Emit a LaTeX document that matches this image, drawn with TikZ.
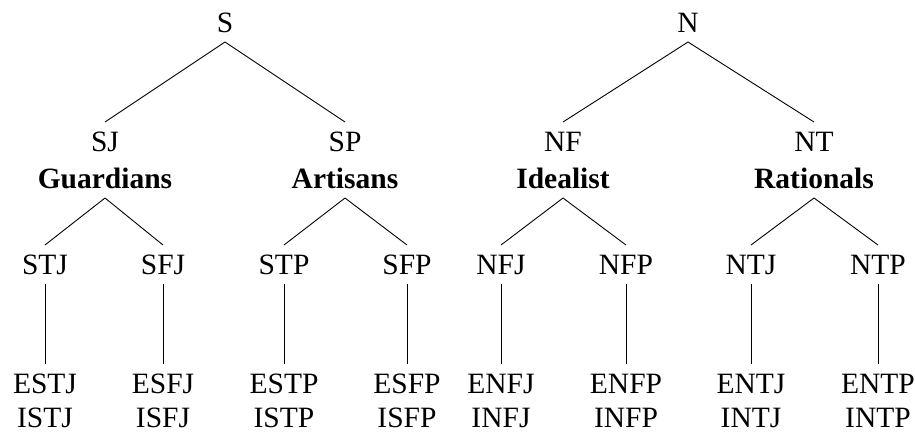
\documentclass[tikz,border=0pt]{standalone}
\usepackage{fontspec}
\setmainfont{Liberation Serif}
\begin{document}
\begin{tikzpicture}[x=1pt,y=-1pt,
  lab/.style={font=\fontsize{29.5}{35}\selectfont, text height=19pt, text depth=0pt,
    inner xsep=0pt, inner ysep=10pt, outer sep=0pt, anchor=base},
  low/.style={lab, inner ysep=0pt},
  grp/.style={lab, font=\fontsize{29.5}{35}\selectfont\bfseries},
  edge/.style={line width=0.9pt}]
\useasboundingbox (0,0) rectangle (915,434);
% roots
\node[lab] (S) at (225,32) {S};
\node[lab] (N) at (688,32) {N};
% level 2
\node[lab] (SJ) at (105,151) {SJ};
\node[grp] (G) at (105,188) {Guardians};
\node[lab] (SP) at (345,151) {SP};
\node[grp] (A) at (345,188) {Artisans};
\node[lab] (NF) at (563,151) {NF};
\node[grp] (I) at (563,188) {Idealist};
\node[lab] (NT) at (814,151) {NT};
\node[grp] (R) at (814,188) {Rationals};
% level 3
\node[lab] (STJ) at (45,274) {STJ};
\node[lab] (SFJ) at (163,274) {SFJ};
\node[lab] (STP) at (284,274) {STP};
\node[lab] (SFP) at (407,274) {SFP};
\node[lab] (NFJ) at (501,274) {NFJ};
\node[lab] (NFP) at (626,274) {NFP};
\node[lab] (NTJ) at (751,274) {NTJ};
\node[lab] (NTP) at (878,274) {NTP};
% leaves
\node[lab] (ESTJ) at (45,393) {ESTJ};
\node[low] (ISTJ) at (45,427) {ISTJ};
\node[lab] (ESFJ) at (163,393) {ESFJ};
\node[low] (ISFJ) at (163,427) {ISFJ};
\node[lab] (ESTP) at (284,393) {ESTP};
\node[low] (ISTP) at (284,427) {ISTP};
\node[lab] (ESFP) at (407,393) {ESFP};
\node[low] (ISFP) at (407,427) {ISFP};
\node[lab] (ENFJ) at (501,393) {ENFJ};
\node[low] (INFJ) at (501,427) {INFJ};
\node[lab] (ENFP) at (626,393) {ENFP};
\node[low] (INFP) at (626,427) {INFP};
\node[lab] (ENTJ) at (751,393) {ENTJ};
\node[low] (INTJ) at (751,427) {INTJ};
\node[lab] (ENTP) at (878,393) {ENTP};
\node[low] (INTP) at (878,427) {INTP};
% edges
\draw[edge] (S.south) -- (SJ.north);
\draw[edge] (S.south) -- (SP.north);
\draw[edge] (N.south) -- (NF.north);
\draw[edge] (N.south) -- (NT.north);
\draw[edge] (G.south) -- (STJ.north);
\draw[edge] (G.south) -- (SFJ.north);
\draw[edge] (A.south) -- (STP.north);
\draw[edge] (A.south) -- (SFP.north);
\draw[edge] (I.south) -- (NFJ.north);
\draw[edge] (I.south) -- (NFP.north);
\draw[edge] (R.south) -- (NTJ.north);
\draw[edge] (R.south) -- (NTP.north);
\draw[edge] (STJ.south) -- (ESTJ.north);
\draw[edge] (SFJ.south) -- (ESFJ.north);
\draw[edge] (STP.south) -- (ESTP.north);
\draw[edge] (SFP.south) -- (ESFP.north);
\draw[edge] (NFJ.south) -- (ENFJ.north);
\draw[edge] (NFP.south) -- (ENFP.north);
\draw[edge] (NTJ.south) -- (ENTJ.north);
\draw[edge] (NTP.south) -- (ENTP.north);
\end{tikzpicture}
\end{document}
